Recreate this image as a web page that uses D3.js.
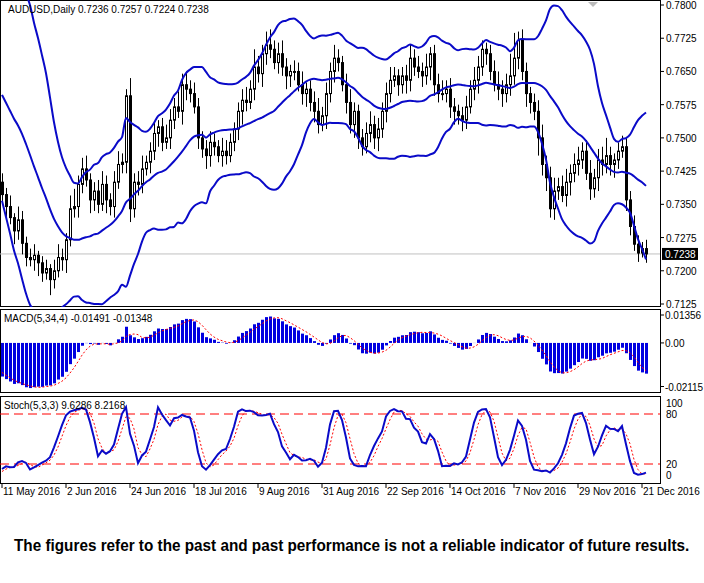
<!DOCTYPE html><html><head><meta charset="utf-8">
<script src="https://cdn.jsdelivr.net/npm/d3@7"></script>
<style>body{margin:0;background:#fff}svg{display:block}text{font-family:"Liberation Sans",Arial,sans-serif}</style></head><body>
<svg id="c" width="704" height="583"></svg>
<script>
// warm-up closes (before 11 May 2016), used only to seed the indicators
const warmup=[0.7560,0.7600,0.7620,0.7650,0.7680,0.7700,0.7720,0.7740,0.7710,0.7690,0.7700,0.7740,0.7780,0.7760,0.7720,0.7700,0.7680,0.7650,0.7620,0.7640,0.7690,0.7720,0.7750,0.7700,0.7690,0.7660,0.7680,0.7640,0.7560,0.7500,0.7440,0.7430,0.7420,0.7400];
// visible daily closes, 11 May 2016 ...
const closes=[0.7372,0.7345,0.7320,0.7290,0.7315,0.7262,
0.7230,0.7225,0.7235,0.7218,0.7195,0.7205,0.7180,0.7200,0.7230,
0.7225,0.7270,0.7340,0.7345,0.7395,0.7430,0.7405,
0.7360,0.7380,0.7350,0.7395,0.7360,0.7345,0.7400,0.7440,0.7445,
0.7595,0.7340,0.7400,0.7395,0.7430,0.7445,
0.7470,0.7510,0.7525,0.7490,0.7500,0.7540,
0.7570,0.7560,0.7620,0.7610,0.7600,0.7570,0.7500,
0.7475,0.7460,0.7490,0.7480,0.7460,0.7470,0.7460,
0.7490,0.7520,0.7560,0.7585,0.7580,0.7610,
0.7660,0.7645,0.7690,0.7710,0.7700,0.7670,0.7690,0.7660,0.7640,0.7650,
0.7650,0.7620,0.7600,0.7610,0.7580,0.7560,0.7530,0.7550,
0.7600,0.7650,0.7680,0.7670,0.7620,0.7580,
0.7530,0.7560,0.7500,0.7480,0.7510,0.7530,0.7500,0.7520,0.7560,
0.7600,0.7630,0.7640,0.7620,0.7640,0.7630,0.7680,0.7660,0.7650,
0.7640,0.7660,0.7690,0.7620,0.7600,0.7600,0.7610,0.7570,0.7560,
0.7550,0.7540,0.7570,0.7610,0.7630,0.7660,0.7700,0.7690,0.7650,
0.7620,0.7610,0.7600,0.7620,0.7640,0.7680,0.7720,
0.7650,0.7600,0.7580,0.7560,0.7500,0.7440,0.7410,0.7340,
0.7380,0.7390,0.7370,0.7400,0.7420,0.7440,0.7450,0.7470,
0.7420,0.7385,0.7410,0.7450,0.7440,0.7460,0.7440,0.7450,0.7470,0.7480,
0.7360,0.7300,0.7260,0.7240,0.7250,0.7238];
// wick sizes in pips above / below the body
const upWick=[20,15,25,10,30,20,15,20,25,10,15,20,10,25,30,20,15,30,40,20,25,30,15,20,25,30,20,15,25,30,20,
15,40,20,25,30,15,20,25,15,20,30,25,20,35,25,30,20,25,20,15,20,25,20,15,30,25,20,15,20,25,30,20,
40,25,20,30,35,20,25,30,20,15,25,20,30,15,20,25,30,20,25,20,30,20,15,25,30,20,15,20,25,30,20,25,
20,25,30,20,15,20,25,30,20,25,20,30,15,20,25,30,20,25,20,15,20,25,20,30,25,20,15,20,25,30,20,25,50,
57,20,25,20,15,20,25,30,20,25,30,20,25,30,20,25,30,20,25,30,20,25,30,40,20,15,20,25,20,20,25,20,15];
const downWick=[20,25,15,30,20,25,20,15,25,30,20,15,35,20,15,25,30,15,20,25,20,15,30,25,20,15,30,20,25,15,20,
25,30,20,25,20,15,25,20,30,20,15,25,20,15,30,25,20,15,25,20,30,25,20,15,25,20,15,20,25,30,20,15,
25,20,30,25,20,15,25,20,30,25,20,15,25,30,20,25,20,15,30,20,25,20,15,25,20,30,25,20,15,20,25,30,
20,25,20,15,25,20,30,25,20,15,25,20,30,25,20,15,20,25,30,20,25,20,15,25,30,20,25,20,15,25,30,20,25,
20,25,20,30,25,20,40,25,30,20,25,20,15,25,30,20,25,20,15,25,20,30,25,20,25,30,20,15,25,20,15,20,10];
const dateLabels=["11 May 2016","2 Jun 2016","24 Jun 2016","18 Jul 2016","9 Aug 2016","31 Aug 2016","22 Sep 2016","14 Oct 2016","7 Nov 2016","29 Nov 2016","21 Dec 2016"];
const priceTicks=[0.7800,0.7725,0.7650,0.7575,0.7500,0.7425,0.7350,0.7275,0.7200,0.7125];
const macdTicks=[0.01356,0.00,-0.02115];
const stochTicks=[100,80,20,0];
const header="AUDUSD,Daily  0.7236 0.7257 0.7224 0.7238";
const lastPrice=0.7238;

const all=warmup.concat(closes), W=warmup.length, N=closes.length;
const ohlc=closes.map((c,i)=>{const o=all[W+i-1];const h=Math.max(o,c)+(upWick[i]??20)*1e-4, l=Math.min(o,c)-(downWick[i]??20)*1e-4;return {o,c,h,l};});
const allH=all.map((c,k)=>k<W?c+0.002:ohlc[k-W].h), allL=all.map((c,k)=>k<W?c-0.002:ohlc[k-W].l);
const bb=all.map((c,k)=>{if(k<19)return null;const s=all.slice(k-19,k+1),m=d3.mean(s),sd=Math.sqrt(d3.mean(s,v=>(v-m)*(v-m)));return {m,u:m+2*sd,l:m-2*sd};}).slice(W);
function ema(a,p){const k=2/(p+1);let e=a[0];return a.map(v=>e=e+(v-e)*k);}
const e5=ema(all,5),e34=ema(all,34),macd=all.map((v,k)=>e5[k]-e34[k]);
const sig=macd.map((v,k)=>d3.mean(macd.slice(Math.max(0,k-3),k+1)));
const num=all.map((c,k)=>c-d3.min(allL.slice(Math.max(0,k-4),k+1))), den=all.map((c,k)=>d3.max(allH.slice(Math.max(0,k-4),k+1))-d3.min(allL.slice(Math.max(0,k-4),k+1)));
const K=all.map((c,k)=>100*d3.sum(num.slice(Math.max(0,k-2),k+1))/d3.sum(den.slice(Math.max(0,k-2),k+1)));
const D=K.map((v,k)=>d3.mean(K.slice(Math.max(0,k-2),k+1)));

const svg=d3.select("#c");
const x=d3.scaleLinear().domain([0,1]).range([2,6]);
const PR=660, FS=10;
const y=d3.scaleLinear().domain([0.7125,0.7800]).range([304,5]);
const ym=d3.scaleLinear().domain([-0.02115,0.01356]).range([386.5,315]);
const ys=d3.scaleLinear().domain([20,80]).range([464,414]);
const blue="#0a0ac8";
svg.append("rect").attr("width",704).attr("height",583).attr("fill","#fff");
const defs=svg.append("defs");
[["cm",0,307],["cd",309,393],["cs",396,484]].forEach(([id,a,b])=>defs.append("clipPath").attr("id",id).append("rect").attr("x",0).attr("y",a).attr("width",PR).attr("height",b-a));
[[0,307],[309,393],[396,484]].forEach(([a,b])=>svg.append("rect").attr("x",0.5).attr("y",a+0.5).attr("width",PR).attr("height",b-a-1).attr("fill","none").attr("stroke","#000"));
const gm=svg.append("g").attr("clip-path","url(#cm)");
gm.append("line").attr("x1",0).attr("x2",PR).attr("y1",y(lastPrice)).attr("y2",y(lastPrice)).attr("stroke","#c0c0c0");
ohlc.forEach((d,i)=>{const cx=Math.round(x(i))+0.5;
 gm.append("line").attr("x1",cx).attr("x2",cx).attr("y1",y(d.h)).attr("y2",y(d.l)).attr("stroke","#000");
 const t=y(Math.max(d.o,d.c)),b=y(Math.min(d.o,d.c));
 gm.append("rect").attr("x",cx-1).attr("y",t).attr("width",2).attr("height",Math.max(1,b-t)).attr("fill",d.c>=d.o?"#fff":"#000").attr("stroke","#000").attr("stroke-width",1);
});
["u","m","l"].forEach(k=>gm.append("path").attr("d",d3.line().defined(d=>d).x((d,i)=>x(i)).y(d=>y(d[k])).curve(d3.curveMonotoneX)(bb)).attr("fill","none").attr("stroke",blue).attr("stroke-width",2));
gm.append("path").attr("d","M588,2 l5,5 l5,-5z").attr("fill","#bbb");
svg.append("text").attr("x",8).attr("y",13).attr("font-size",FS).text(header);
priceTicks.forEach(p=>{svg.append("line").attr("x1",PR).attr("x2",PR+4).attr("y1",y(p)).attr("y2",y(p)).attr("stroke","#000");
 svg.append("text").attr("x",PR+6).attr("y",y(p)+4).attr("font-size",FS).text(p.toFixed(4));});
svg.append("rect").attr("x",PR+2).attr("y",y(lastPrice)-6).attr("width",36).attr("height",12).attr("fill","#000");
svg.append("text").attr("x",PR+5).attr("y",y(lastPrice)+4).attr("font-size",FS).attr("fill","#fff").text(lastPrice.toFixed(4));
const gd=svg.append("g").attr("clip-path","url(#cd)");
const mv=macd.slice(W),sv=sig.slice(W);
mv.forEach((v,i)=>{const cx=Math.round(x(i));gd.append("rect").attr("x",cx-1).attr("width",3).attr("y",Math.min(ym(v),ym(0))).attr("height",Math.abs(ym(v)-ym(0))).attr("fill","#0000e0");});
gd.append("path").attr("d",d3.line().x((d,i)=>x(i)).y(d=>ym(d))(sv)).attr("fill","none").attr("stroke","#f00").attr("stroke-dasharray","2,2");
svg.append("text").attr("x",4).attr("y",322).attr("font-size",FS).text("MACD(5,34,4) "+mv[N-1].toFixed(5)+" "+sv[N-1].toFixed(5));
macdTicks.forEach(v=>{svg.append("line").attr("x1",PR).attr("x2",PR+4).attr("y1",ym(v)).attr("y2",ym(v)).attr("stroke","#000");svg.append("text").attr("x",PR+5).attr("y",ym(v)+4).attr("font-size",FS).attr("textLength",v<0?38:null).text(v===0?"0.00":v.toFixed(5));});
const gs=svg.append("g").attr("clip-path","url(#cs)");
[80,20].forEach(v=>gs.append("line").attr("x1",0).attr("x2",PR).attr("y1",ys(v)).attr("y2",ys(v)).attr("stroke","#f00").attr("stroke-dasharray","9,5"));
gs.append("path").attr("d",d3.line().x((d,i)=>x(i)).y(d=>ys(d))(D.slice(W))).attr("fill","none").attr("stroke","#f00").attr("stroke-dasharray","2,2");
gs.append("path").attr("d",d3.line().x((d,i)=>x(i)).y(d=>ys(d))(K.slice(W))).attr("fill","none").attr("stroke",blue).attr("stroke-width",2);
svg.append("text").attr("x",4).attr("y",409).attr("font-size",FS).text("Stoch(5,3,3) "+K[W+N-1].toFixed(4)+" "+D[W+N-1].toFixed(4));
const stLab={100:403,80:414,20:464,0:475};
stochTicks.forEach(v=>svg.append("text").attr("x",PR+6).attr("y",stLab[v]+4).attr("font-size",FS).text(v));
dateLabels.forEach((t,j)=>{const xi=x(j*16);svg.append("line").attr("x1",xi).attr("x2",xi).attr("y1",484).attr("y2",488).attr("stroke","#000");svg.append("text").attr("x",xi+1).attr("y",495).attr("font-size",FS).text(t);});
const disc=svg.append("text").attr("x",0).attr("y",0).attr("font-size",17).attr("font-weight","bold").attr("font-family","'DejaVu Sans Condensed','Liberation Sans Narrow',sans-serif").text("The figures refer to the past and past performance is not a reliable indicator of future results.");
const wl=disc.node().getComputedTextLength(), sc=676/wl;
disc.attr("transform",`translate(14,551) scale(${sc},1)`);
</script></body></html>
